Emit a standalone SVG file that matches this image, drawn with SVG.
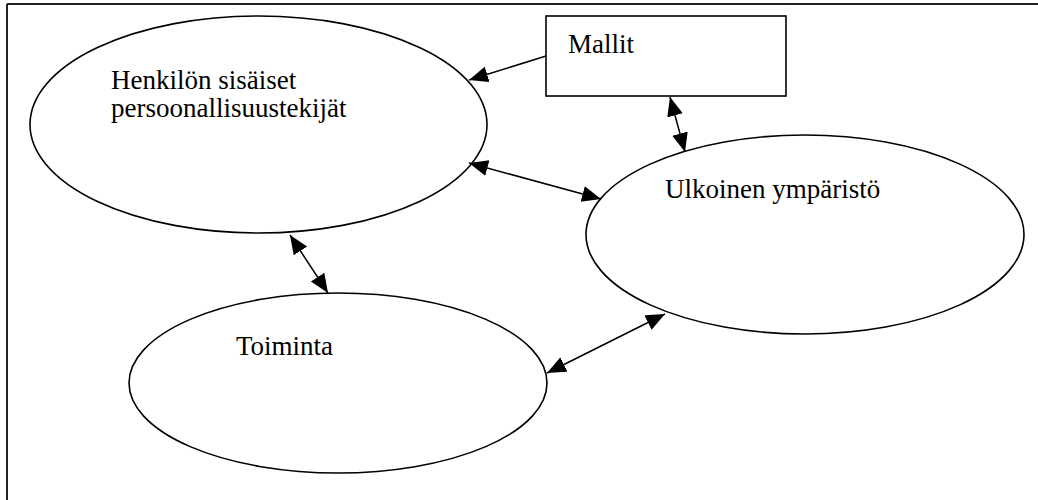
<svg xmlns="http://www.w3.org/2000/svg" width="1038" height="500" viewBox="0 0 1038 500">
<style>
.shape{fill:#fff;stroke:#000;stroke-width:1.6}
text{font-family:'Liberation Serif','Times New Roman',serif;font-size:27px;fill:#000}
.conn{stroke:#000;stroke-width:1.5;fill:none;marker-start:url(#ah);marker-end:url(#ah)}
.one{stroke:#000;stroke-width:1.5;fill:none;marker-end:url(#ah)}
</style>
<defs>
<marker id="ah" markerUnits="userSpaceOnUse" markerWidth="22" markerHeight="18" refX="19" refY="8" orient="auto-start-reverse">
<path d="M0,0 L19,8 L0,16 z" fill="#000"/>
</marker>
</defs>
<rect width="1038" height="500" fill="#fff"/>
<g id="frame">
<line x1="7" y1="4" x2="1038" y2="4" stroke="#222" stroke-width="2"/>
<line x1="7" y1="4" x2="7" y2="500" stroke="#222" stroke-width="2"/>
</g>
<g id="node-henkilo">
<ellipse class="shape" cx="258.5" cy="124.5" rx="228.5" ry="108.5"/>
<text x="111" y="89">Henkilön sisäiset</text>
<text x="111" y="117">persoonallisuustekijät</text>
</g>
<g id="node-mallit">
<rect class="shape" x="546" y="16" width="240" height="80"/>
<text x="568" y="53">Mallit</text>
</g>
<g id="node-ulkoinen">
<ellipse class="shape" cx="805" cy="234.5" rx="219" ry="99.5"/>
<text x="665" y="198">Ulkoinen ympäristö</text>
</g>
<g id="node-toiminta">
<ellipse class="shape" cx="338" cy="383" rx="209" ry="90"/>
<text x="236" y="355">Toiminta</text>
</g>
<g id="connectors">
<line class="one" x1="546" y1="56" x2="469" y2="80"/>
<line class="conn" x1="670" y1="97" x2="685" y2="152"/>
<line class="conn" x1="469" y1="163" x2="601" y2="199"/>
<line class="conn" x1="290" y1="235" x2="328" y2="293"/>
<line class="conn" x1="547" y1="373" x2="665" y2="314"/>
</g>
</svg>
